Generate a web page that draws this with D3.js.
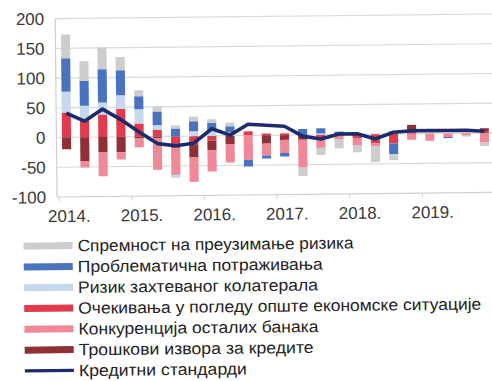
<!DOCTYPE html>
<html>
<head>
<meta charset="utf-8">
<script src="https://cdn.jsdelivr.net/npm/d3@7"></script>
<style>
  html, body { margin: 0; padding: 0; background: #fff; }
  svg { display: block; }
  text { font-family: "Liberation Sans", Arial, Helvetica, sans-serif; }
</style>
</head>
<body>
<svg id="chart" width="492" height="381"></svg>
<script>
// Quarterly contributions to credit standards, 2014Q1–2019Q4
const quarters = d3.range(2014, 2020).flatMap(y => [1, 2, 3, 4].map(q => `${y}Q${q}`));
const yearLabels = ["2014.", "2015.", "2016.", "2017.", "2018.", "2019."];
const yTicks = [-100, -50, 0, 50, 100, 150, 200];

const riskAppetite    = [40, 33, 37, 22, 10, 8, 5, 8, 6, 6, 0, 0, 0, -14, -12, -15, -12, -27, -10, 0, 0, 0, 0, -6];
const nonPerforming   = [56, 42, 56, 42, 22, 23, 13, 17, 12, 10, -11, -5, -6, 10, 9, 5, 0, 0, -18, 0, 0, -2, 0, 0];
const collateral      = [35, 23, 20, 23, 24, 8, -5, 8, 10, 6, 0, 0, 0, 0, 2, 0, 0, 0, 0, 0, 0, 0, -2, 0];
const outlook         = [42, 30, 38, 47, 22, 11, -20, -14, -8, 0, 7, 3, 3, 0, -6, 0, -6, -15, -16, 5, 0, 0, 0, 2];
const competition     = [0, -11, -40, -12, -15, -53, -45, -41, -36, -31, -41, -20, -22, -47, -16, -8, -12, -5, 5, -10, -12, -6, -4, -16];
const fundingCost     = [-20, -40, -26, -26, -3, -3, 0, -22, -16, -14, 0, -14, -8, -8, 0, 0, 0, 0, 0, 10, 0, 0, 0, 6];
const creditStandards = [41, 27, 47, 29, 8, -12, -16, -12, 12, 1, 19, 17, 15, -2, -7, 1, 1, -8, 3, 5, 5, 5, 5, 3];

const seriesInfo = [
  { key: "riskAppetite",  name: "Спремност на преузимање ризика", color: "#cdcdcf", values: riskAppetite },
  { key: "nonPerforming", name: "Проблематична потраживања", color: "#4a72bf", values: nonPerforming },
  { key: "collateral",    name: "Ризик захтеваног колатерала", color: "#c4d8ee", values: collateral },
  { key: "outlook",       name: "Очекивања у погледу опште економске ситуације", color: "#e03c4d", values: outlook },
  { key: "competition",   name: "Конкуренција осталих банака", color: "#ef8897", values: competition },
  { key: "fundingCost",   name: "Трошкови извора за кредите", color: "#8e3036", values: fundingCost }
];
const lineInfo = { name: "Кредитни стандарди", color: "#1d2a6c" };

// stacking order outward from zero
const stackKeys = ["outlook", "fundingCost", "competition", "collateral", "nonPerforming", "riskAppetite"];

const rows = quarters.map((q, i) => {
  const r = { q };
  seriesInfo.forEach(s => { r[s.key] = s.values[i]; });
  return r;
});
const stacked = d3.stack().keys(stackKeys).offset(d3.stackOffsetDiverging)(rows);
const colorOf = Object.fromEntries(seriesInfo.map(s => [s.key, s.color]));

const svg = d3.select("#chart");
const g = svg.append("g").attr("transform", "rotate(-0.6, 246, 190)");

const x = d3.scaleBand().domain(quarters).range([58, 494]).paddingInner(0.5).paddingOuter(0.25);
const y = d3.scaleLinear().domain([-100, 200]).range([195, 16.6]);
const cx = q => x(q) + x.bandwidth() / 2;

// grid
g.append("g").selectAll("line").data(yTicks.filter(d => d > -100)).join("line")
  .attr("x1", 57).attr("x2", 500)
  .attr("y1", d => y(d)).attr("y2", d => y(d))
  .attr("stroke", "#d9d9d9").attr("stroke-width", 1.2);

// axes lines
g.append("line").attr("x1", 57).attr("x2", 57).attr("y1", y(200)).attr("y2", y(-100))
  .attr("stroke", "#cfcfcf").attr("stroke-width", 1.2);
g.append("line").attr("x1", 57).attr("x2", 500).attr("y1", y(-100)).attr("y2", y(-100))
  .attr("stroke", "#cfcfcf").attr("stroke-width", 1.2);

// y labels
g.append("g").selectAll("text").data(yTicks).join("text")
  .attr("x", 46).attr("y", d => y(d)).attr("dy", "0.36em")
  .attr("text-anchor", "end").attr("font-size", 17).attr("fill", "#3a3a3a")
  .text(d => d);

// year ticks and labels
const yearStarts = quarters.filter(q => q.endsWith("Q1"));
g.append("g").selectAll("line").data(yearStarts).join("line")
  .attr("x1", d => x(d) - x.step() * x.paddingInner() / 2 + 1)
  .attr("x2", d => x(d) - x.step() * x.paddingInner() / 2 + 1)
  .attr("y1", y(-100)).attr("y2", y(-100) + 4)
  .attr("stroke", "#cfcfcf");
g.append("g").selectAll("text").data(yearStarts).join("text")
  .attr("x", d => cx(d) + 2).attr("y", 220)
  .attr("text-anchor", "middle").attr("font-size", 17).attr("fill", "#3a3a3a")
  .text((d, i) => yearLabels[i]);

// stacked bars
g.append("g").selectAll("g").data(stacked).join("g")
  .attr("fill", d => colorOf[d.key])
  .selectAll("rect").data(d => d).join("rect")
  .attr("x", d => x(d.data.q))
  .attr("width", x.bandwidth())
  .attr("y", d => y(Math.max(d[0], d[1])))
  .attr("height", d => Math.abs(y(d[0]) - y(d[1])));

// credit standards line
g.append("path").datum(creditStandards)
  .attr("fill", "none").attr("stroke", lineInfo.color).attr("stroke-width", 3.6)
  .attr("stroke-linejoin", "round")
  .attr("d", d3.line().x((d, i) => cx(quarters[i])).y(d => y(d)));

// legend (text widths set to the compact legend style)
const legendWidths = [276, 245, 240, 403, 240, 235, 168];
const legendItems = seriesInfo.map(s => ({ name: s.name, color: s.color, kind: "bar" }))
  .concat([{ name: lineInfo.name, color: lineInfo.color, kind: "line" }]);
const leg = g.append("g").selectAll("g").data(legendItems).join("g")
  .attr("transform", (d, i) => `translate(0, ${243.8 + i * 20.8})`);
leg.append("rect")
  .attr("x", 23).attr("width", 49)
  .attr("y", d => d.kind === "bar" ? -3.5 : -1.6)
  .attr("height", d => d.kind === "bar" ? 7 : 3.2)
  .attr("fill", d => d.color);
leg.append("text")
  .attr("x", 77).attr("dy", "0.35em")
  .attr("font-size", 16.5).attr("fill", "#222")
  .attr("textLength", (d, i) => legendWidths[i])
  .attr("lengthAdjust", "spacingAndGlyphs")
  .text(d => d.name);
</script>
</body>
</html>
